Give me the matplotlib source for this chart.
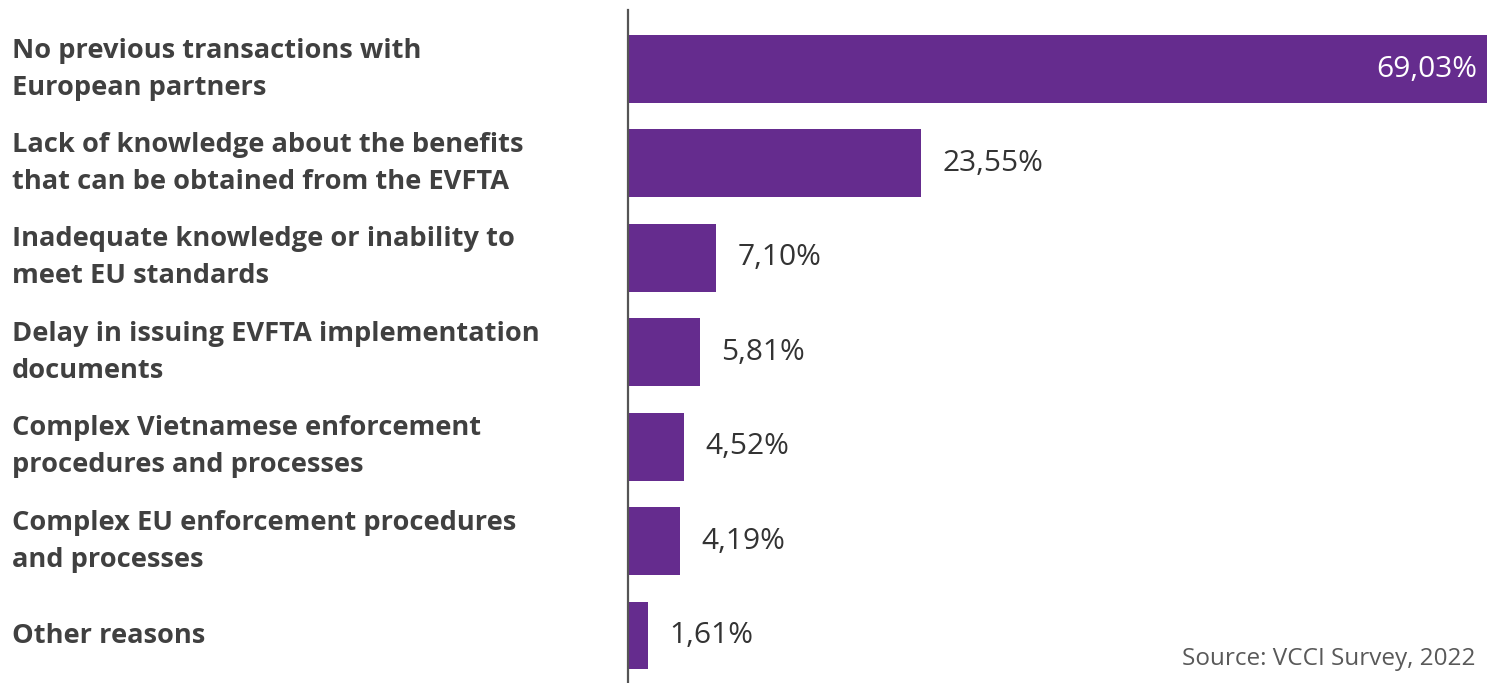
import matplotlib
matplotlib.use("Agg")
import matplotlib.pyplot as plt
from matplotlib.transforms import blended_transform_factory

categories = [
    "No previous transactions with\nEuropean partners",
    "Lack of knowledge about the benefits\nthat can be obtained from the EVFTA",
    "Inadequate knowledge or inability to\nmeet EU standards",
    "Delay in issuing EVFTA implementation\ndocuments",
    "Complex Vietnamese enforcement\nprocedures and processes",
    "Complex EU enforcement procedures\nand processes",
    "Other reasons",
]
values = [69.03, 23.55, 7.10, 5.81, 4.52, 4.19, 1.61]
source_text = "Source: VCCI Survey, 2022"

BAR_COLOR = "#652C8E"
TEXT_COLOR = "#404040"

W, H = 1492, 683
fig = plt.figure(figsize=(W / 100, H / 100), dpi=100)
ax = fig.add_axes([628 / W, 0, 864 / W, 673 / H])

y = list(range(len(values)))
ax.barh(y, values, height=0.72, color=BAR_COLOR)
ax.set_xlim(0, 69.4)
ax.set_ylim(6.503, -0.625)

for s in ["top", "right", "bottom"]:
    ax.spines[s].set_visible(False)
ax.spines["left"].set_color("#555555")
ax.spines["left"].set_linewidth(1.6)
ax.set_xticks([])
ax.set_yticks([])

for i, v in enumerate(values):
    lab = f"{v:.2f}".replace(".", ",") + "%"
    if i == 0:
        ax.annotate(lab, (v, i), xytext=(-7, 0), textcoords="offset points",
                    ha="right", va="center", color="white",
                    fontsize=21.5, family="Open Sans")
    else:
        ax.annotate(lab, (v, i), xytext=(15, 0), textcoords="offset points",
                    ha="left", va="center", color="#333333",
                    fontsize=21.5, family="Open Sans")

trans = blended_transform_factory(fig.transFigure, ax.transData)
for i, c in enumerate(categories):
    ax.text(12 / W, i, c, transform=trans, ha="left", va="center",
            fontsize=19.6, fontweight="bold", family="Open Sans",
            color=TEXT_COLOR, linespacing=1.55, clip_on=False)

fig.text(1476 / W, 1 - 665 / H, source_text, ha="right", va="baseline",
         fontsize=17.5, family="Open Sans", color="#595959")

fig.savefig("out.png", dpi=100)
